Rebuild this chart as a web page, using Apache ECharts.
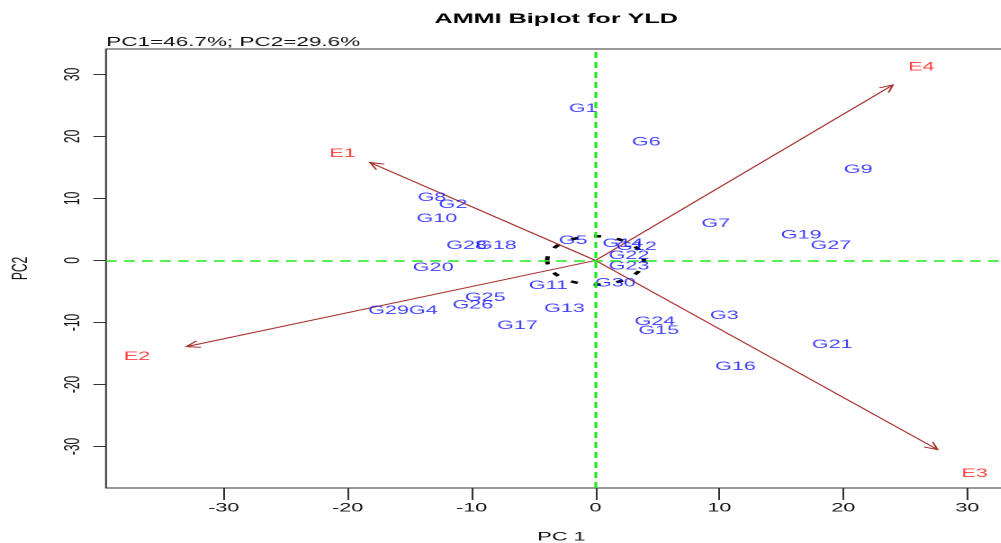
<!DOCTYPE html>
<html><head><meta charset="utf-8">
<script src="https://cdn.jsdelivr.net/npm/echarts@6/dist/echarts.min.js"></script>
<style>
html,body{margin:0;padding:0;overflow:hidden;background:#fff;width:1001px;height:543px}
#wrap{width:1001px;height:543px;overflow:hidden;position:relative}
#chart{width:556px;height:543px;transform:scaleX(1.8);transform-origin:0 0}
</style></head><body><div id="wrap"><div id="chart"></div></div>
<script>
// ---- data ----
const titleText = 'AMMI Biplot for YLD';
const subtitleText = 'PC1=46.7%; PC2=29.6%';
const genotypes = ['G1','G2','G3','G4','G5','G6','G7','G8','G9','G10',
                   'G11','G12','G13','G14','G15','G16','G17','G18','G19','G20',
                   'G21','G22','G23','G24','G25','G26','G27','G28','G29','G30'];
const genoPC1 = [-1.0,-11.5,10.4,-13.9,-1.8,4.1,9.7,-13.2,21.2,-12.8,
                 -3.8,3.3,-2.5,2.2,5.1,11.3,-6.3,-8.0,16.6,-13.1,
                 19.1,2.7,2.7,4.8,-8.9,-9.9,19.0,-10.4,-16.7,1.6];
const genoPC2 = [24.5,9.0,-8.9,-8.1,3.2,19.1,5.9,10.1,14.6,6.7,
                 -4.1,2.2,-7.8,2.7,-11.3,-17.1,-10.5,2.4,4.1,-1.2,
                 -13.6,0.8,-0.9,-9.9,-6.0,-7.2,2.4,2.4,-8.1,-3.7];
const environments = ['E1','E2','E3','E4'];
const envPC1 = [-18.2,-33.0,27.6,24.0];
const envPC2 = [15.8,-13.9,-30.5,28.3];
const envLabelPC1 = [-20.4,-37.0,30.6,26.3];
const envLabelPC2 = [17.2,-15.5,-34.4,31.2];
const xTicks = [-30,-20,-10,0,10,20,30];
const yTicks = [-30,-20,-10,0,10,20,30];
const circleRadius = [3.9];

// ---- chart ----
const F = '"Liberation Sans", Arial, sans-serif';
const chart = echarts.init(document.getElementById('chart'), null, {renderer:'canvas', devicePixelRatio:2});
const option = {
  animation:false,
  backgroundColor:'#fff',
  title:[
    {text:titleText, left:304, top:7, textAlign:'center',
     textStyle:{fontFamily:F,fontSize:14,fontWeight:'bold',color:'#000'}},
    {text:subtitleText, left:54, top:31,
     textStyle:{fontFamily:F,fontSize:12.5,fontWeight:'normal',color:'#111'}}
  ],
  grid:{left:58.9, top:49, width:506, height:439, containLabel:false, outerBoundsMode:'none',
        show:true, borderColor:'#333', borderWidth:1, backgroundColor:'transparent'},
  xAxis:{type:'value', min:-39.5, max:34, name:'PC 1', nameLocation:'middle', nameGap:43,
    nameTextStyle:{fontFamily:F,fontSize:12,color:'#111'},
    axisLine:{show:false, onZero:false}, splitLine:{show:false},
    axisTick:{show:true, customValues:xTicks, length:12, lineStyle:{color:'#333'}},
    axisLabel:{customValues:xTicks, margin:14, fontFamily:F, fontSize:12, color:'#111'}},
  yAxis:{type:'value', min:-36.7, max:34.1, name:'PC2', nameLocation:'middle', nameGap:41, nameRotate:90,
    nameTextStyle:{fontFamily:F,fontSize:12,color:'#111'},
    axisLine:{show:false, onZero:false}, splitLine:{show:false},
    axisTick:{show:true, customValues:yTicks, length:7, lineStyle:{color:'#333'}},
    axisLabel:{customValues:yTicks, margin:12, rotate:90, fontFamily:F, fontSize:12, color:'#111'}},
  series:[
    {type:'custom', silent:true, z:2, data:[[0,0,circleRadius[0]]],
     renderItem:function(params, api){
       const c = api.coord([api.value(0), api.value(1)]);
       const r = api.value(2);
       const rx = api.size([r,0])[0], ry = api.size([0,r])[1];
       return {type:'path', shape:{pathData:
         'M '+(c[0]-rx)+' '+c[1]+' A '+rx+' '+ry+' 0 1 0 '+(c[0]+rx)+' '+c[1]+' A '+rx+' '+ry+' 0 1 0 '+(c[0]-rx)+' '+c[1]+' Z'},
         style:{fill:null, stroke:'#000', lineWidth:2.5, lineDash:[4,9]}};
     }},
    {type:'custom', silent:true, z:3, data:environments.map((e,i)=>[envPC1[i],envPC2[i]]),
     renderItem:function(params, api){
       const o = api.coord([0,0]);
       const p = api.coord([api.value(0), api.value(1)]);
       const ang = Math.atan2(p[1]-o[1], p[0]-o[0]);
       const L = 8, a = 0.45;
       const h1 = [p[0]-L*Math.cos(ang-a), p[1]-L*Math.sin(ang-a)];
       const h2 = [p[0]-L*Math.cos(ang+a), p[1]-L*Math.sin(ang+a)];
       return {type:'group', children:[
         {type:'line', shape:{x1:o[0],y1:o[1],x2:p[0],y2:p[1]}, style:{stroke:'#a5302c', lineWidth:1}},
         {type:'polyline', shape:{points:[h1,p,h2]}, style:{stroke:'#a5302c', fill:null, lineWidth:1}}
       ]};
     }},
    {type:'scatter', silent:true, z:4, symbolSize:1, itemStyle:{color:'rgba(0,0,0,0)'},
     data:genotypes.map((g,i)=>({name:g, value:[genoPC1[i],genoPC2[i]]})),
     label:{show:true, position:'inside', formatter:'{b}', color:'#1010ff', fontFamily:F, fontSize:12},
     labelLayout:{hideOverlap:false},
     markLine:{silent:true, symbol:['none','none'], label:{show:false},
       lineStyle:{color:'#22e822', type:[6,4], width:1.6},
       data:[{xAxis:0},{yAxis:0}]}},
    {type:'scatter', silent:true, z:4, symbolSize:1, itemStyle:{color:'rgba(0,0,0,0)'},
     data:environments.map((e,i)=>({name:e, value:[envLabelPC1[i],envLabelPC2[i]]})),
     label:{show:true, position:'inside', formatter:'{b}', color:'#ff1010', fontFamily:F, fontSize:12},
     labelLayout:{hideOverlap:false}}
  ]
};
chart.setOption(option);
</script></body></html>
